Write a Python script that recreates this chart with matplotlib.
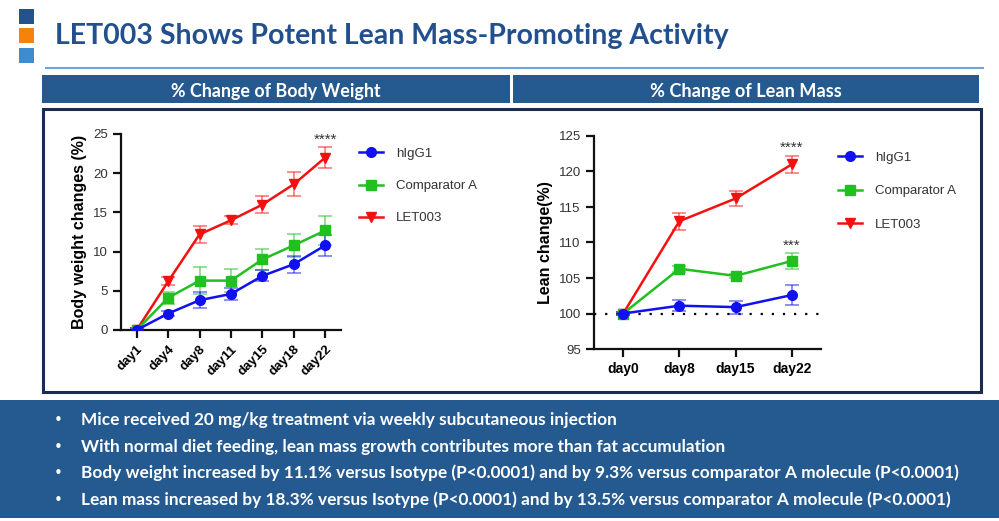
import matplotlib.pyplot as plt
from matplotlib.patches import Rectangle

# ---- data ----
bw_days = ["day1", "day4", "day8", "day11", "day15", "day18", "day22"]
bw_higg1 = [0, 2.1, 3.8, 4.6, 6.9, 8.4, 10.8]
bw_higg1_err = [0.2, 0.3, 1.0, 0.8, 0.7, 1.1, 1.3]
bw_comp = [0, 4.1, 6.3, 6.3, 9.0, 10.8, 12.7]
bw_comp_err = [0.2, 0.8, 1.7, 1.5, 1.3, 1.5, 1.9]
bw_let = [0, 6.2, 12.2, 14.0, 16.0, 18.6, 22.0]
bw_let_err = [0.2, 0.5, 1.1, 0.5, 1.1, 1.5, 1.3]

lm_days = ["day0", "day8", "day15", "day22"]
lm_higg1 = [100, 101.1, 100.9, 102.6]
lm_higg1_err = [0.2, 0.8, 0.9, 1.4]
lm_comp = [100, 106.3, 105.3, 107.4]
lm_comp_err = [0.2, 0.4, 0.3, 1.1]
lm_let = [100, 113.0, 116.2, 121.0]
lm_let_err = [0.2, 1.2, 1.0, 1.2]

groups = ["hIgG1", "Comparator A", "LET003"]
colors = ["#1010f0", "#20c020", "#f51010"]
markers = ["o", "s", "v"]

title = "LET003 Shows Potent Lean Mass-Promoting Activity"
headers = ["% Change of Body Weight", "% Change of Lean Mass"]
bullets = [
    "Mice received 20 mg/kg treatment via weekly subcutaneous injection",
    "With normal diet feeding, lean mass growth contributes more than fat accumulation",
    "Body weight increased by 11.1% versus Isotype (P<0.0001) and by 9.3% versus comparator A molecule (P<0.0001)",
    "Lean mass increased by 18.3% versus Isotype (P<0.0001) and by 13.5% versus comparator A molecule (P<0.0001)",
]

W, H = 999, 521
slide_blue = "#245a8f"
slide_font = "Lato"
chart_font = "Liberation Sans"

fig = plt.figure(figsize=(W / 100, H / 100), dpi=100)

# background layer in pixel coordinates
bg = fig.add_axes([0, 0, 1, 1], zorder=0)
bg.set_xlim(0, W)
bg.set_ylim(H, 0)
bg.axis("off")

# title squares
for yy, c in zip([9, 28, 48], ["#24528a", "#f5820a", "#3d8ccf"]):
    bg.add_patch(Rectangle((19, yy), 15, 15, color=c, lw=0))
t_title = bg.text(55, 44, title, fontsize=22, color="#22508e",
                  family=slide_font, fontweight="bold", va="baseline")
bg.plot([46, 983], [68, 68], color="#6aa8dc", lw=1.5)

# header bars
bg.add_patch(Rectangle((42, 75), 468, 28, color=slide_blue, lw=0))
bg.add_patch(Rectangle((513, 75), 466, 28, color=slide_blue, lw=0))
t_h1 = bg.text(276, 97, headers[0], fontsize=12, color="white", family=slide_font,
               fontweight="bold", ha="center", va="baseline")
t_h2 = bg.text(746, 97, headers[1], fontsize=12, color="white", family=slide_font,
               fontweight="bold", ha="center", va="baseline")

# chart frame
bg.add_patch(Rectangle((43, 109), 938, 283, fill=False, ec="#1c2c4e", lw=2.2))

# bottom text box
bg.add_patch(Rectangle((0, 400), W, 118, color=slide_blue, lw=0))
t_bul = []
for i, s in enumerate(bullets):
    yb = 425 + i * 26.7
    bg.text(58, yb, "\u2022", fontsize=11, color="white", family="DejaVu Sans",
            va="baseline", ha="center")
    t_bul.append(bg.text(81, yb, s, fontsize=11, color="white", family=slide_font,
                         fontweight="bold", va="baseline"))

# fit slide text widths to the reference
fig.canvas.draw()
r = fig.canvas.get_renderer()
def fit(t, width):
    bb = t.get_window_extent(r)
    t.set_fontsize(t.get_fontsize() * width / bb.width)
fit(t_title, 673)
fit(t_h1, 209)
fit(t_h2, 190)
bw = t_bul[2].get_window_extent(r).width
for t in t_bul:
    t.set_fontsize(t.get_fontsize() * 874 / bw)


def px_axes(x0, x1, y_top, y_bot):
    return fig.add_axes([x0 / W, 1 - y_bot / H, (x1 - x0) / W, (y_bot - y_top) / H], zorder=2)


def style(ax):
    ax.patch.set_alpha(0)
    for s in ["top", "right"]:
        ax.spines[s].set_visible(False)
    for s in ["left", "bottom"]:
        ax.spines[s].set_linewidth(1.6)
        ax.spines[s].set_color("#111111")
    ax.tick_params(width=1.6, length=6, color="#111111")
    ax.tick_params(axis="y", labelsize=9.5, labelcolor="#333333")


def draw_series(ax, x, series, errs):
    handles = []
    for k in [2, 1, 0]:
        ax.errorbar(x, series[k], yerr=errs[k], fmt="none", ecolor=colors[k],
                    alpha=0.6, elinewidth=1.1, capsize=5, capthick=1.1, zorder=3)
        h, = ax.plot(x, series[k], color=colors[k], marker=markers[k], lw=1.8,
                     ms=7 if k != 2 else 7.5, label=groups[k], zorder=4)
        handles.append(h)
    return handles[::-1]


def star(ax, x, y, s):
    ax.text(x, y, s, ha="center", va="center", fontsize=11, color="#333333",
            family=chart_font)


# left chart: body weight
ax1 = px_axes(121, 341, 134, 330)
style(ax1)
x1 = list(range(len(bw_days)))
h1 = draw_series(ax1, x1, [bw_higg1, bw_comp, bw_let], [bw_higg1_err, bw_comp_err, bw_let_err])
ax1.set_xlim(-0.5, 6.5)
ax1.set_ylim(0, 25)
ax1.set_yticks([0, 5, 10, 15, 20, 25])
ax1.set_xticks(x1)
ax1.set_xticklabels(bw_days, rotation=45, ha="right", rotation_mode="anchor",
                    fontsize=9.5, fontweight="bold", family=chart_font)
for lab in ax1.get_yticklabels():
    lab.set_family(chart_font)
ax1.set_ylabel("Body weight changes (%)", fontsize=11.5, fontweight="bold",
               family=chart_font, labelpad=4)
star(ax1, 6, 24.2, "****")
ax1.legend(handles=h1, loc="upper left", bbox_to_anchor=(347 / W, 1 - 136 / H),
           bbox_transform=fig.transFigure, frameon=False,
           labelspacing=1.5, handlelength=1.8, handletextpad=1.0,
           prop={"family": chart_font, "size": 9.5}, labelcolor="#333333")

# right chart: lean mass
ax2 = px_axes(594, 821, 136, 349)
style(ax2)
x2 = list(range(len(lm_days)))
ax2.axhline(100, color="black", ls=(0, (1, 4)), lw=1.6, zorder=2)
h2 = draw_series(ax2, x2, [lm_higg1, lm_comp, lm_let], [lm_higg1_err, lm_comp_err, lm_let_err])
ax2.set_xlim(-0.52, 3.52)
ax2.set_ylim(95, 125)
ax2.set_yticks([95, 100, 105, 110, 115, 120, 125])
ax2.set_xticks(x2)
ax2.set_xticklabels(lm_days, fontsize=10, fontweight="bold", family=chart_font)
for lab in ax2.get_yticklabels():
    lab.set_family(chart_font)
ax2.set_ylabel("Lean change(%)", fontsize=11.5, fontweight="bold",
               family=chart_font, labelpad=4)
star(ax2, 3, 123.3, "****")
star(ax2, 3, 109.5, "***")
ax2.legend(handles=h2, loc="upper left", bbox_to_anchor=(826 / W, 1 - 140 / H),
           bbox_transform=fig.transFigure, frameon=False,
           labelspacing=1.6, handlelength=1.8, handletextpad=1.0,
           prop={"family": chart_font, "size": 9.5}, labelcolor="#333333")

fig.savefig("out.png", dpi=100)
